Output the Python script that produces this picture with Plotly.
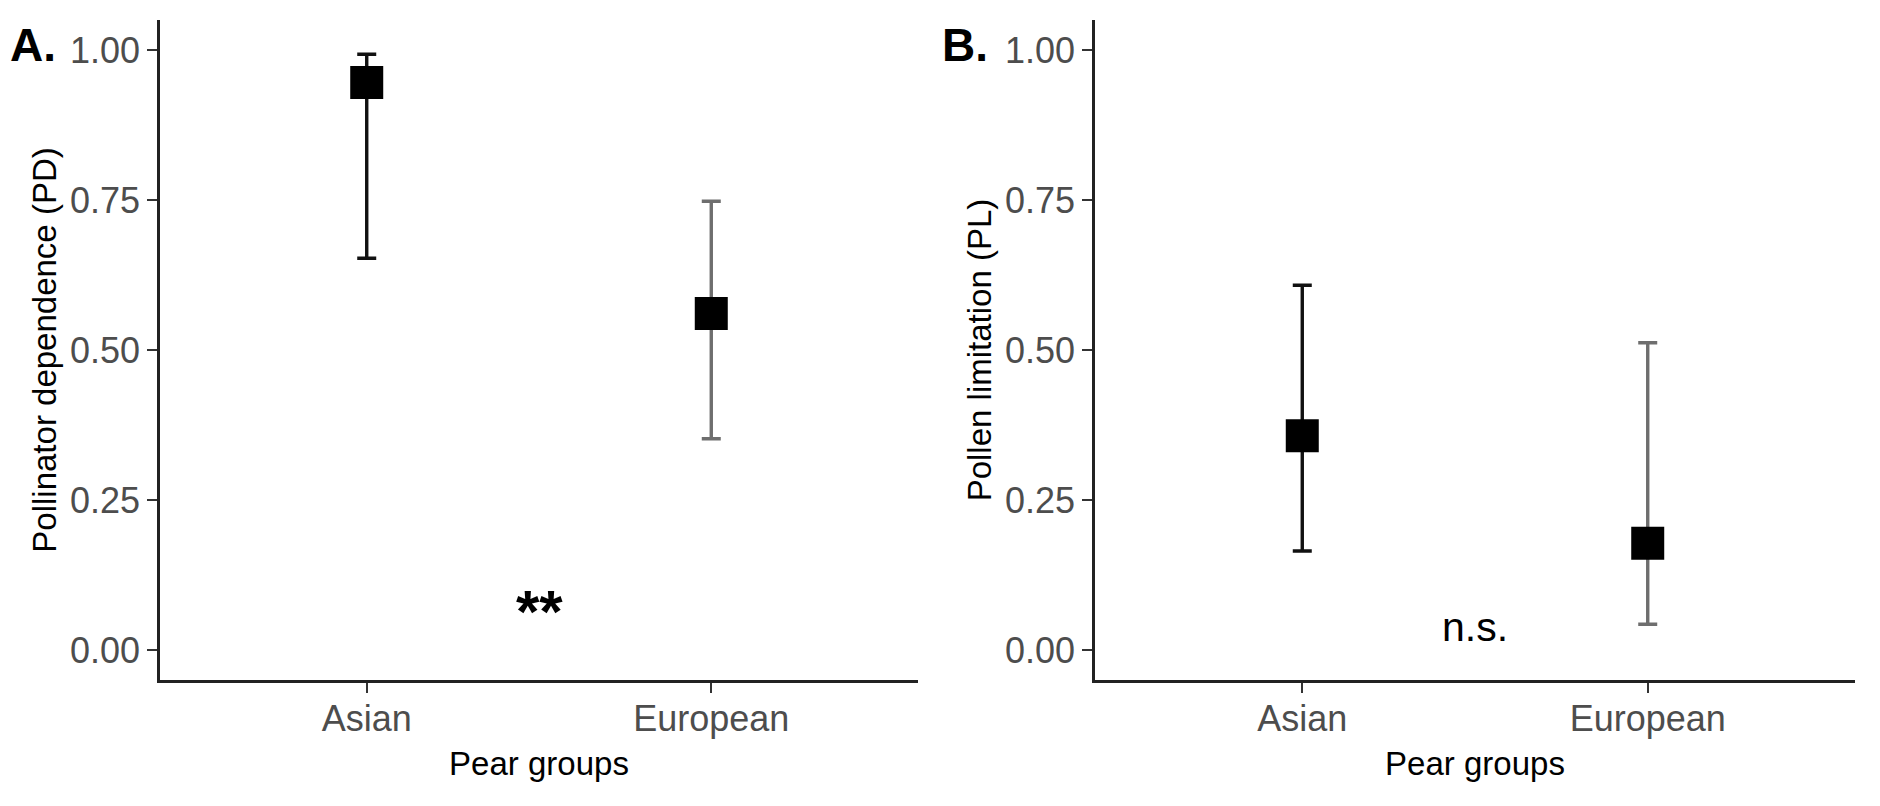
import plotly.graph_objects as go

groups = ["Asian", "European"]

# panel A: pollinator dependence
pd_mean = [0.946, 0.561]
pd_low = [0.653, 0.352]
pd_high = [0.993, 0.748]

# panel B: pollen limitation
pl_mean = [0.357, 0.178]
pl_low = [0.165, 0.043]
pl_high = [0.608, 0.512]

bar_colors = ["#111111", "#6e6e6e"]

font_family = "Liberation Sans, Arial, Helvetica, sans-serif"
W, H = 1880, 806
OFF = 8  # page body margin, shift everything back by it

fig = go.Figure()


def add_panel(means, lows, highs, xa, ya):
    for i, g in enumerate(groups):
        fig.add_trace(go.Scatter(
            x=[g], y=[means[i]],
            mode="markers",
            marker=dict(symbol="square", size=33, color="black", line=dict(width=0)),
            error_y=dict(type="data", symmetric=False,
                         array=[highs[i] - means[i]],
                         arrayminus=[means[i] - lows[i]],
                         color=bar_colors[i], thickness=3.4, width=9.5),
            xaxis=xa, yaxis=ya, showlegend=False,
        ))


add_panel(pd_mean, pd_low, pd_high, "x", "y")
add_panel(pl_mean, pl_low, pl_high, "x2", "y2")

axis_common = dict(
    showline=True, linecolor="#222222", linewidth=2.5, mirror=False,
    showgrid=False, zeroline=False,
    ticks="outside", ticklen=10, tickwidth=2, tickcolor="#333333",
    tickfont=dict(size=36, color="#4d4d4d", family=font_family),
)
ydom = [1 - (680 - OFF) / H, 1 - (20 - OFF) / H]

yticks = [0, 0.25, 0.5, 0.75, 1.0]
ytext = ["0.00", "0.25", "0.50", "0.75", "1.00"]

xtitle = dict(text="Pear groups", font=dict(size=33, color="black"), standoff=14)

fig.update_layout(
    width=W, height=H,
    margin=dict(l=0, r=0, t=0, b=0),
    paper_bgcolor="white", plot_bgcolor="white",
    font=dict(family=font_family, color="black"),
    xaxis=dict(axis_common, domain=[(160 - OFF) / W, (918 - OFF) / W], anchor="y",
               type="category", categoryorder="array", categoryarray=groups,
               range=[-0.6, 1.6], ticklabelstandoff=-5, title=xtitle),
    yaxis=dict(axis_common, domain=ydom, anchor="x", range=[-0.05, 1.05],
               tickvals=yticks, ticktext=ytext,
               title=dict(text="Pollinator dependence (PD)", font=dict(size=33, color="black"), standoff=4)),
    xaxis2=dict(axis_common, domain=[(1095 - OFF) / W, (1855 - OFF) / W], anchor="y2",
                type="category", categoryorder="array", categoryarray=groups,
                range=[-0.6, 1.6], ticklabelstandoff=-5, title=xtitle),
    yaxis2=dict(axis_common, domain=ydom, anchor="x2", range=[-0.05, 1.05],
                tickvals=yticks, ticktext=ytext,
                title=dict(text="Pollen limitation (PL)", font=dict(size=33, color="black"), standoff=4)),
)

# significance labels
fig.add_annotation(x=0.5, y=0.078, xref="x", yref="y", text="<b>**</b>",
                   showarrow=False, font=dict(size=60, color="black"), yshift=-8)
fig.add_annotation(x=0.5, y=0.038, xref="x2", yref="y2", text="n.s.",
                   showarrow=False, font=dict(size=41, color="black"))

# panel tags
fig.add_annotation(x=0, y=1 - (45 - OFF) / H, xref="paper", yref="paper", text="<b>A.</b>",
                   xanchor="left", yanchor="middle", showarrow=False,
                   font=dict(size=46, color="black"))
fig.add_annotation(x=(940 - OFF) / W, y=1 - (45 - OFF) / H, xref="paper", yref="paper", text="<b>B.</b>",
                   xanchor="left", yanchor="middle", showarrow=False,
                   font=dict(size=46, color="black"))

fig.write_html("out.html")
